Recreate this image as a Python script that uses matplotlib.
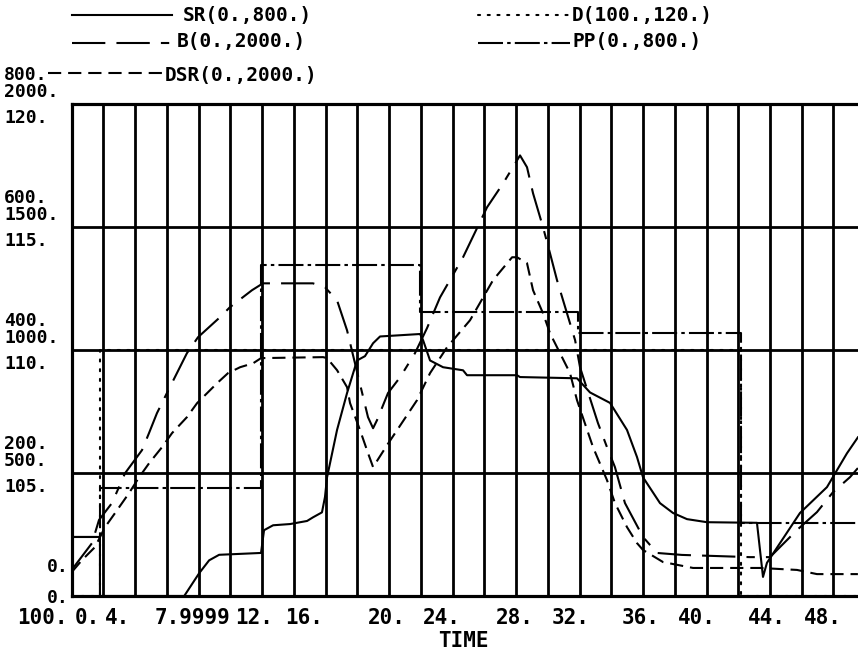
import matplotlib
matplotlib.use("Agg")
import numpy as np
import matplotlib.pyplot as plt
from matplotlib.lines import Line2D

plt.rcParams['font.family'] = ['DejaVu Sans Mono', 'DejaVu Sans']
plt.rcParams['font.weight'] = 'bold'
plt.rcParams['axes.labelweight'] = 'bold'
plt.rcParams['lines.scale_dashes'] = False

W, H = 858, 668

# ---- data: TIME and values in each series' own units ----
sr_t = [0, 1.78, 1.78, 7.09, 8.03, 8.66, 9.29, 11.93, 12.12, 12.69, 13.76, 14.83,
        15.21, 15.77, 15.96, 16.09, 16.72, 17.35, 17.98, 18.48, 18.99, 19.43,
        21.95, 22.14, 22.58, 23.4, 24.66, 24.91, 28.06, 28.25, 31.84, 32.66,
        33.92, 34.99, 35.62, 36.0, 37.07, 37.89, 38.77, 40.03, 43.18, 43.56,
        43.81, 45.89, 47.59, 48.85, 49.54]
sr = [96, 96, 0, 0, 37, 58, 67, 70, 107, 115, 117, 122,
      128, 136, 161, 193, 270, 330, 383, 390, 411, 422,
      426, 416, 383, 372, 367, 359, 359, 356, 354, 331,
      314, 270, 226, 193, 151, 135, 125, 120, 119, 31,
      54, 135, 177, 232, 258]

b_t = [0, 1.28, 1.72, 2.54, 3.36, 4.43, 4.87, 5.37, 6.0, 7.26, 7.96, 9.34, 9.97,
       11.36, 12.05, 15.2, 15.96, 16.72, 17.35, 17.85, 18.67, 18.99, 19.24,
       19.93, 20.69, 21.63, 22.39, 23.21, 24.66, 26.17, 27.18, 28.25, 28.69,
       29.07, 29.7, 30.14, 30.58, 31.72, 32.03, 33.16, 33.73, 34.23, 34.86,
       36.0, 36.88, 38.45, 42.74, 44.0, 45.7, 46.96, 47.97, 49.04, 49.54]
b = [106, 215, 309, 378, 499, 593, 662, 743, 825, 987, 1052, 1133, 1174,
     1243, 1271, 1271, 1255, 1202, 1080, 946, 727, 682, 715,
     825, 889, 987, 1089, 1214, 1377, 1580, 1677, 1791, 1743,
     1637, 1499, 1393, 1284, 1040, 930, 703, 605, 524, 378,
     240, 175, 167, 158, 158, 268, 341, 422, 483, 520]

dsr_t = [0, 0.65, 1.47, 2.1, 2.73, 3.61, 4.25, 4.88, 5.69, 6.32, 7.26, 7.9, 9.16,
         9.85, 10.61, 11.43, 11.93, 15.84, 16.09, 16.72, 17.35, 17.54, 18.17,
         18.67, 18.99, 19.87, 21.76, 22.58, 23.65, 25.1, 26.55, 27.75, 28.06,
         28.69, 29.07, 29.7, 30.14, 30.77, 31.4, 31.84, 32.85, 33.73, 34.23,
         34.99, 35.62, 36.0, 37.26, 39.15, 43.37, 45.7, 46.96, 49.54]
dsr = [97, 146, 199, 280, 337, 418, 483, 540, 605, 662, 727, 784, 865,
       906, 930, 946, 967, 971, 967, 918, 849, 784, 674,
       581, 524, 613, 796, 906, 1011, 1121, 1284, 1377, 1377,
       1353, 1243, 1149, 1068, 987, 906, 796, 605, 471, 378,
       280, 215, 187, 138, 114, 114, 106, 89, 89]

d_t = [0, 1.78, 1.78, 42.2, 42.2, 50]
d = [100, 100, 110, 110, 100, 100]

pp_t = [0, 1.78, 1.78, 11.93, 11.93, 21.95, 21.95, 31.9, 31.9, 42.2, 42.2, 50]
pp = [96, 96, 175, 175, 539, 539, 461, 461, 427, 427, 119, 119]

series_names = ['SR(0.,800.)', 'B(0.,2000.)', 'DSR(0.,2000.)', 'D(100.,120.)', 'PP(0.,800.)']

# tick labels
time_labels = ['0.', '4.', '7.9999', '12.', '16.', '20.', '24.', '28.', '32.',
               '36.', '40.', '44.', '48.']
sr_ticks = ['0.', '200.', '400.', '600.', '800.']
b_ticks = ['0.', '500.', '1000.', '1500.', '2000.']
d_ticks = ['100.', '105.', '110.', '115.', '120.']

# ---- layout / styles ----
time_label_pos = [1.0, 2.92, 7.61, 11.49, 14.67, 19.84, 23.33, 27.93, 31.43,
                  35.84, 39.4, 43.78, 47.34]
styles = {
    'SR': '-',
    'B': (0, (24, 8, 24, 8, 6, 8)),
    'DSR': (0, (9.5, 5)),
    'D': (0, (1.5, 5.5)),
    'PP': (0, (18, 3, 2.5, 3)),
}
LW = 1.5


def fx(px):
    return px / W


def fy(py):
    return 1 - py / H


fig = plt.figure(figsize=(W / 100, H / 100), dpi=100)
ax_left, ax_bot, ax_top = 71.7, 596, 104
ax = fig.add_axes([fx(ax_left), fy(ax_bot), 793.5 / W, (ax_bot - ax_top) / H])
axb = ax.twinx()
axd = ax.twinx()

ax.set_xlim(0, 50)
ax.set_ylim(0, 800)
axb.set_ylim(0, 2000)
axd.set_ylim(100, 120)

for a in (ax, axb, axd):
    for s in a.spines.values():
        s.set_linewidth(2.2)
    a.tick_params(which='both', length=0)
    a.set_yticks([])

# grid: every 2 time units, 4 bands vertically
ax.set_xticks(np.arange(0, 51, 2), minor=True)
ax.set_yticks([200, 400, 600], minor=True)
ax.grid(which='minor', color='black', linewidth=2.0)
ax.set_axisbelow(True)

ax.set_xticks(time_label_pos, time_labels)
ax.tick_params(axis='x', pad=9, labelsize=15)
ax.set_xlabel('TIME', fontsize=15, fontweight='bold')
ax.xaxis.set_label_coords((463 - ax_left) / 793.5, (ax_bot - 631) / (ax_bot - ax_top))
ax.xaxis.label.set_verticalalignment('top')

# curves
ax.plot(sr_t, sr, color='black', lw=LW, linestyle=styles['SR'])
ax.plot(pp_t, pp, color='black', lw=LW, linestyle=styles['PP'])
axb.plot(b_t, b, color='black', lw=LW, linestyle=styles['B'])
axb.plot(dsr_t, dsr, color='black', lw=LW, linestyle=styles['DSR'])
axd.plot(d_t, d, color='black', lw=LW, linestyle=styles['D'], dash_capstyle='round')

# stacked scale labels on the left
grid_px = [596, 473, 350, 227, 104]
for i, gy in enumerate(grid_px):
    if i == 0:
        fig.text(fx(47), fy(gy - 29), sr_ticks[i], fontsize=13, va='center')
        fig.text(fx(47), fy(gy + 2), b_ticks[i], fontsize=13, va='center')
        fig.text(fx(42.5), fy(618), d_ticks[i], fontsize=15, va='center', ha='center')
    else:
        fig.text(fx(4), fy(gy - 29), sr_ticks[i], fontsize=13, va='center')
        fig.text(fx(4), fy(gy - 12), b_ticks[i], fontsize=13, va='center')
        fig.text(fx(4), fy(gy + 14), d_ticks[i], fontsize=13, va='center')

# legend drawn above the frame
legend_rows = [
    (72, 172, 15, 183, 16, 'SR'),
    (72, 172, 43, 177, 42, 'B'),
    (48, 163, 73, 165, 76, 'DSR'),
    (478, 570, 15, 572, 16, 'D'),
    (478, 570, 43, 572, 42, 'PP'),
]
for (x0, x1, ly, tx, ty, key), name in zip(legend_rows, series_names):
    fig.add_artist(Line2D([fx(x0), fx(x1)], [fy(ly), fy(ly)], transform=fig.transFigure,
                          color='black', lw=LW, linestyle=styles[key],
                          dash_capstyle='round' if key == 'D' else 'butt'))
    fig.text(fx(tx), fy(ty), name, fontsize=14, va='center')

fig.savefig('out.png', dpi=100, facecolor='white')
